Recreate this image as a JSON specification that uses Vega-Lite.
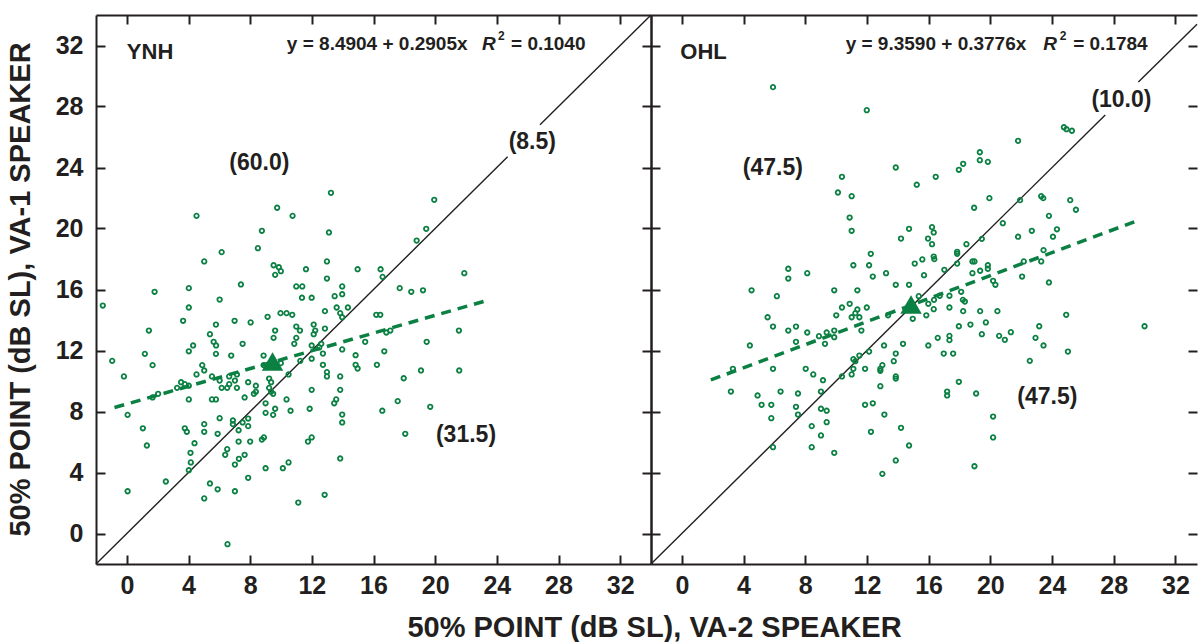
{
"$schema": "https://vega.github.io/schema/vega-lite/v6.json",
"background": "white",
"padding": {"left": 5, "top": 12, "right": 0, "bottom": 0},
"bounds": "flush",
"spacing": 0,
"config": {
  "view": {"stroke": null},
  "axis": {"grid": false, "domainColor": "#231f20", "domainWidth": 2, "tickColor": "#231f20", "tickWidth": 2, "tickSize": -9,
    "labelFont": "Liberation Sans", "labelFontWeight": "bold", "labelFontSize": 25, "labelColor": "#231f20", "labelFlush": false,
    "titleFont": "Liberation Sans", "titleFontWeight": "bold", "titleFontSize": 29, "titleColor": "#231f20"},
  "axisBottom": {"labelPadding": 18},
  "axisLeft": {"labelPadding": 22},
  "text": {"font": "Liberation Sans", "fontWeight": "bold", "color": "#231f20"}
},
"datasets": {
  "pts_ynh": [
    {"x":9.75,"y":21.36},{"x":4.52,"y":20.83},{"x":8.76,"y":19.85},{"x":8.50,"y":18.71},{"x":6.15,"y":18.45},{"x":5.02,"y":17.84},{"x":9.52,"y":17.59},{"x":9.86,"y":17.46},{"x":9.99,"y":17.20},{"x":9.62,"y":16.96},{"x":7.40,"y":16.33},{"x":1.80,"y":15.85},{"x":4.02,"y":16.09},{"x":-1.56,"y":14.95},{"x":6.02,"y":15.34},{"x":4.02,"y":14.82},{"x":9.97,"y":14.45},{"x":10.36,"y":14.45},{"x":9.13,"y":14.21},{"x":3.65,"y":13.95},{"x":6.99,"y":13.95},{"x":8.03,"y":13.84},{"x":5.78,"y":13.70},{"x":1.43,"y":13.31},{"x":9.62,"y":13.31},{"x":5.39,"y":13.07},{"x":9.52,"y":12.83},{"x":5.63,"y":12.57},{"x":5.79,"y":12.33},{"x":4.30,"y":12.33},{"x":7.51,"y":12.44},{"x":4.02,"y":11.95},
    {"x":13.24,"y":22.34},{"x":19.94,"y":21.88},{"x":10.75,"y":20.83},{"x":13.11,"y":19.74},{"x":19.42,"y":19.98},{"x":18.80,"y":19.21},{"x":12.98,"y":17.84},{"x":11.62,"y":17.33},{"x":14.97,"y":17.33},{"x":16.46,"y":17.33},{"x":16.59,"y":16.83},{"x":12.98,"y":16.72},{"x":21.89,"y":17.07},{"x":10.99,"y":16.20},{"x":11.38,"y":16.20},{"x":13.97,"y":16.20},{"x":17.70,"y":16.09},{"x":18.45,"y":15.85},{"x":19.21,"y":15.95},{"x":13.97,"y":15.69},{"x":13.48,"y":15.56},{"x":11.36,"y":15.46},{"x":11.99,"y":15.46},{"x":13.61,"y":14.82},{"x":14.34,"y":14.82},{"x":13.84,"y":14.45},{"x":13.97,"y":14.18},{"x":12.85,"y":14.58},{"x":16.18,"y":14.34},{"x":16.44,"y":14.34},{"x":10.73,"y":14.34},{"x":10.99,"y":13.57},{"x":11.23,"y":13.31},{"x":12.12,"y":13.70},{"x":12.22,"y":13.31},{"x":12.12,"y":13.07},{"x":12.85,"y":13.44},{"x":10.99,"y":12.83},{"x":10.86,"y":12.44},{"x":16.83,"y":13.18},{"x":17.09,"y":13.31},{"x":21.54,"y":13.31},{"x":11.99,"y":12.33},{"x":12.61,"y":12.44},{"x":12.48,"y":12.20},{"x":15.46,"y":12.57},{"x":19.45,"y":12.57},{"x":13.97,"y":12.07},{"x":16.70,"y":11.95},
    {"x":1.17,"y":11.78},{"x":5.78,"y":11.78},{"x":6.77,"y":11.67},{"x":8.87,"y":11.67},{"x":-0.95,"y":11.32},{"x":1.67,"y":11.04},{"x":4.89,"y":11.04},{"x":5.02,"y":10.69},{"x":4.52,"y":10.43},{"x":-0.19,"y":10.30},{"x":5.52,"y":10.30},{"x":6.64,"y":10.30},{"x":7.14,"y":10.43},{"x":8.87,"y":11.04},{"x":9.99,"y":11.17},{"x":6.02,"y":10.03},{"x":7.01,"y":10.03},{"x":7.87,"y":9.92},{"x":3.52,"y":9.92},{"x":3.76,"y":9.79},{"x":4.02,"y":9.69},{"x":3.26,"y":9.55},{"x":6.15,"y":9.55},{"x":6.51,"y":9.55},{"x":7.14,"y":9.55},{"x":6.64,"y":9.79},{"x":8.37,"y":9.69},{"x":9.23,"y":10.16},{"x":9.36,"y":9.92},{"x":9.23,"y":9.55},{"x":8.37,"y":9.29},{"x":8.24,"y":9.16},{"x":9.36,"y":9.29},{"x":9.49,"y":9.16},{"x":10.49,"y":10.43},{"x":2.03,"y":9.16},{"x":1.67,"y":8.92},{"x":7.64,"y":8.92},{"x":4.02,"y":8.79},{"x":5.52,"y":8.79},{"x":5.78,"y":8.79},{"x":10.36,"y":8.79},{"x":9.00,"y":8.54},{"x":9.62,"y":8.18},{"x":9.00,"y":7.91},{"x":9.49,"y":7.78},{"x":10.62,"y":8.05},{"x":0.05,"y":7.78},{"x":6.02,"y":7.56},{"x":6.88,"y":7.41},{"x":6.88,"y":7.17},{"x":7.51,"y":7.28},{"x":7.87,"y":7.54},{"x":7.87,"y":7.04},{"x":5.02,"y":7.17},{"x":3.76,"y":6.90},{"x":3.89,"y":6.67},{"x":5.02,"y":6.67},{"x":1.04,"y":6.90},{"x":5.89,"y":6.54},{"x":7.25,"y":6.77},{"x":4.39,"y":5.92},{"x":7.25,"y":6.03},{"x":8.00,"y":6.03},{"x":8.76,"y":6.16},{"x":8.89,"y":6.30},{"x":1.30,"y":5.77},{"x":6.51,"y":5.53},{"x":6.38,"y":5.16},{"x":4.13,"y":5.29},{"x":7.27,"y":4.90},{"x":7.64,"y":5.16},{"x":4.15,"y":4.66},{"x":7.01,"y":4.52},{"x":4.02,"y":4.15},{"x":9.00,"y":4.28},{"x":10.49,"y":4.66},{"x":10.12,"y":4.28},{"x":7.87,"y":3.65},{"x":2.53,"y":3.41},{"x":5.39,"y":3.28},{"x":0.05,"y":2.77},{"x":5.89,"y":2.90},{"x":7.01,"y":2.77},{"x":5.02,"y":2.30},{"x":6.53,"y":-0.70},
    {"x":12.72,"y":11.80},{"x":14.84,"y":11.69},{"x":11.99,"y":11.46},{"x":11.25,"y":11.32},{"x":12.72,"y":11.06},{"x":14.84,"y":11.06},{"x":14.97,"y":10.82},{"x":16.22,"y":11.06},{"x":12.98,"y":10.58},{"x":12.98,"y":10.30},{"x":13.84,"y":10.30},{"x":17.96,"y":10.18},{"x":19.08,"y":10.69},{"x":21.56,"y":10.69},{"x":11.99,"y":9.42},{"x":13.84,"y":9.42},{"x":13.58,"y":8.79},{"x":13.45,"y":8.54},{"x":17.57,"y":8.68},{"x":19.68,"y":8.31},{"x":16.57,"y":8.05},{"x":11.86,"y":8.18},{"x":13.97,"y":7.80},{"x":13.97,"y":7.28},{"x":18.06,"y":6.54},{"x":11.99,"y":6.30},{"x":11.75,"y":6.03},{"x":13.84,"y":4.92},{"x":12.83,"y":2.54},{"x":11.12,"y":2.03}
  ],
  "pts_ohl": [
    {"x":5.91,"y":29.27},{"x":11.99,"y":27.76},{"x":13.87,"y":24.0},{"x":10.38,"y":23.39},{"x":15.23,"y":22.87},{"x":10.12,"y":22.36},{"x":11.01,"y":22.12},{"x":10.88,"y":20.72},{"x":11.01,"y":19.85},{"x":14.73,"y":19.98},{"x":14.21,"y":19.34},{"x":15.96,"y":19.34},{"x":12.25,"y":18.34},{"x":15.59,"y":17.97},{"x":15.10,"y":17.70},{"x":11.12,"y":17.59},{"x":12.14,"y":17.59},{"x":6.90,"y":17.36},
    {"x":24.77,"y":26.64},{"x":24.94,"y":26.51},{"x":25.29,"y":26.41},{"x":21.80,"y":25.75},{"x":19.32,"y":25.0},{"x":19.32,"y":24.48},{"x":19.84,"y":24.37},{"x":18.24,"y":24.24},{"x":17.96,"y":23.85},{"x":16.46,"y":23.39},{"x":19.94,"y":21.99},{"x":18.95,"y":21.36},{"x":21.93,"y":21.86},{"x":23.30,"y":22.12},{"x":23.43,"y":21.99},{"x":25.18,"y":21.86},{"x":25.55,"y":21.23},{"x":23.80,"y":20.83},{"x":20.81,"y":20.35},{"x":16.22,"y":20.09},{"x":16.33,"y":19.74},{"x":22.69,"y":19.85},{"x":24.32,"y":19.95},{"x":24.06,"y":19.46},{"x":21.80,"y":19.46},{"x":19.45,"y":19.32},{"x":16.22,"y":18.97},{"x":18.45,"y":18.97},{"x":17.85,"y":18.47},{"x":17.85,"y":18.34},{"x":23.45,"y":18.58},{"x":16.33,"y":18.16},{"x":16.37,"y":17.99},{"x":23.30,"y":17.84},{"x":22.17,"y":17.84},{"x":18.84,"y":17.84},{"x":18.97,"y":17.84},{"x":17.02,"y":17.29},{"x":17.85,"y":17.70},{"x":19.84,"y":17.59},{"x":19.84,"y":17.36},{"x":19.34,"y":17.23},
    {"x":6.90,"y":16.72},{"x":8.13,"y":17.07},{"x":12.38,"y":16.85},{"x":13.24,"y":17.07},{"x":15.70,"y":16.94},{"x":13.87,"y":16.31},{"x":14.73,"y":16.31},{"x":4.52,"y":15.95},{"x":6.16,"y":15.56},{"x":9.88,"y":15.95},{"x":11.38,"y":15.95},{"x":15.36,"y":15.56},{"x":15.98,"y":15.06},{"x":10.88,"y":15.06},{"x":10.38,"y":14.82},{"x":11.38,"y":14.69},{"x":11.99,"y":14.82},{"x":11.25,"y":14.45},{"x":11.01,"y":14.18},{"x":11.51,"y":14.18},{"x":10.01,"y":14.31},{"x":5.56,"y":14.18},{"x":5.91,"y":13.57},{"x":6.90,"y":13.31},{"x":7.40,"y":13.57},{"x":8.13,"y":13.18},{"x":8.89,"y":12.94},{"x":9.39,"y":13.18},{"x":9.88,"y":13.31},{"x":9.88,"y":12.87},{"x":11.64,"y":13.31},{"x":7.40,"y":12.57},{"x":9.28,"y":12.44},{"x":4.41,"y":12.33},{"x":14.97,"y":14.08},{"x":15.85,"y":14.31},{"x":13.37,"y":14.31},{"x":14.34,"y":12.44},{"x":13.11,"y":12.33},{"x":15.98,"y":12.33},{"x":12.14,"y":11.93},{"x":11.51,"y":11.67},{"x":11.12,"y":11.43},{"x":11.25,"y":11.30},{"x":13.87,"y":11.80},{"x":13.74,"y":11.30},{"x":13.0,"y":11.04},{"x":12.87,"y":10.80},{"x":12.87,"y":10.67},{"x":11.12,"y":10.80},{"x":11.88,"y":10.80},{"x":11.01,"y":10.43},{"x":10.38,"y":10.30},{"x":13.87,"y":10.30},{"x":13.87,"y":10.16},{"x":3.31,"y":10.80},{"x":5.91,"y":10.80},{"x":8.03,"y":10.80},{"x":8.52,"y":10.43},{"x":9.15,"y":10.05},{"x":12.87,"y":9.66},{"x":3.18,"y":9.31},{"x":4.91,"y":9.05},{"x":6.40,"y":9.31},{"x":7.53,"y":9.18},{"x":9.02,"y":9.31},{"x":5.17,"y":8.44},{"x":5.80,"y":8.44},{"x":7.40,"y":8.31},{"x":9.02,"y":8.18},{"x":9.39,"y":8.05},{"x":7.53,"y":7.80},{"x":11.88,"y":8.44},{"x":12.38,"y":8.54},{"x":13.13,"y":7.80},{"x":5.80,"y":7.56},{"x":9.39,"y":7.30},{"x":8.42,"y":7.04},{"x":9.02,"y":6.43},{"x":12.26,"y":6.67},{"x":14.21,"y":6.93},{"x":14.73,"y":5.77},{"x":5.91,"y":5.66},{"x":8.42,"y":5.66},{"x":9.88,"y":5.29},{"x":13.87,"y":4.79},{"x":13.0,"y":3.91},
    {"x":18.84,"y":17.07},{"x":22.06,"y":16.85},{"x":23.80,"y":16.46},{"x":20.33,"y":16.31},{"x":20.18,"y":16.57},{"x":16.35,"y":15.32},{"x":16.72,"y":15.59},{"x":17.35,"y":15.59},{"x":18.11,"y":15.85},{"x":18.22,"y":15.32},{"x":18.35,"y":15.21},{"x":16.33,"y":14.71},{"x":17.35,"y":14.82},{"x":18.24,"y":14.58},{"x":19.34,"y":14.58},{"x":20.46,"y":14.58},{"x":24.92,"y":14.34},{"x":30.0,"y":13.59},{"x":17.96,"y":13.59},{"x":18.71,"y":13.70},{"x":19.71,"y":13.84},{"x":23.17,"y":13.59},{"x":16.59,"y":12.83},{"x":17.35,"y":12.96},{"x":17.35,"y":12.68},{"x":19.45,"y":13.07},{"x":20.57,"y":12.96},{"x":20.94,"y":12.70},{"x":21.33,"y":13.20},{"x":22.93,"y":12.83},{"x":23.45,"y":12.33},{"x":25.03,"y":11.93},{"x":22.56,"y":11.32},{"x":16.98,"y":11.80},{"x":17.59,"y":11.80},{"x":17.96,"y":9.95},{"x":17.20,"y":9.31},{"x":17.20,"y":9.05},{"x":19.08,"y":9.18},{"x":20.18,"y":7.67},{"x":20.18,"y":6.30},{"x":18.97,"y":4.41}
  ],
  "id_ynh": [{"s":1,"x":-2,"y":-2},{"s":1,"x":24.7,"y":24.7},{"s":2,"x":26.8,"y":26.8},{"s":2,"x":34,"y":34}],
  "id_ohl": [{"s":1,"x":-2,"y":-2},{"s":1,"x":27.45,"y":27.45},{"s":2,"x":29.6,"y":29.6},{"s":2,"x":33.4,"y":33.4}],
  "reg_ynh": [{"x":-0.8,"y":8.26},{"x":23.15,"y":15.22}],
  "reg_ohl": [{"x":1.88,"y":10.07},{"x":29.68,"y":20.57}],
  "mean_ynh": [{"x":9.45,"y":11.28}],
  "mean_ohl": [{"x":14.86,"y":15.02}],
  "lab_ynh": [{"t":"(60.0)","x":8.6,"y":24.3},{"t":"(8.5)","x":26.3,"y":25.65},{"t":"(31.5)","x":22.0,"y":6.45}],
  "lab_ohl": [{"t":"(47.5)","x":5.9,"y":24.0},{"t":"(10.0)","x":28.5,"y":28.4},{"t":"(47.5)","x":23.7,"y":8.95}],
  "name_ynh": [{"t":"YNH","x":0.0,"y":31.6}],
  "name_ohl": [{"t":"OHL","x":-0.1,"y":31.6}],
  "eq_ynh": [{"t":"y = 8.4904 + 0.2905x","x":10.38,"y":32.13},{"t":"= 0.1040","x":24.92,"y":32.13}],
  "eq_ohl": [{"t":"y = 9.3590 + 0.3776x","x":10.62,"y":32.13},{"t":"= 0.1784","x":25.37,"y":32.13}],
  "eqr_ynh": [{"t":"R","x":23.04,"y":32.13}],
  "eqr_ohl": [{"t":"R","x":23.43,"y":32.13}],
  "eqs_ynh": [{"t":"2","x":24.07,"y":32.6}],
  "eqs_ohl": [{"t":"2","x":24.5,"y":32.6}]
},
"hconcat": [
  {
    "width": 555, "height": 549,
    "resolve": {"axis": {"x": "independent", "y": "independent"}},
    "layer": [
      {"data": {"name": "id_ynh"}, "mark": {"type": "line", "color": "#231f20", "strokeWidth": 1.4},
       "encoding": {
         "x": {"field": "x", "type": "quantitative", "scale": {"domain": [-2, 34], "nice": false, "zero": false},
               "axis": {"orient": "bottom", "values": [0,4,8,12,16,20,24,28,32], "title": "50% POINT (dB SL), VA-2 SPEAKER", "titleX": 558, "titleY": 72, "titleAlign": "center", "titleBaseline": "alphabetic"}},
         "y": {"field": "y", "type": "quantitative", "scale": {"domain": [-2, 34], "nice": false, "zero": false},
               "axis": {"orient": "left", "values": [0,4,8,12,16,20,24,28,32], "title": "50% POINT (dB SL), VA-1 SPEAKER", "titleX": -67, "titleY": 274, "titleAngle": 270, "titleAlign": "center", "titleBaseline": "alphabetic"}},
         "detail": {"field": "s", "type": "nominal"}}},
      {"data": {"name": "pts_ynh"}, "mark": {"type": "point", "shape": "circle", "filled": false, "size": 20, "strokeWidth": 1.8, "color": "#0b8043", "opacity": 1},
       "encoding": {
         "x": {"field": "x", "type": "quantitative", "scale": {"domain": [-2, 34], "nice": false, "zero": false},
               "axis": {"orient": "top", "values": [0,4,8,12,16,20,24,28,32], "labels": false, "title": null}},
         "y": {"field": "y", "type": "quantitative", "scale": {"domain": [-2, 34], "nice": false, "zero": false},
               "axis": {"orient": "right", "values": [0,4,8,12,16,20,24,28,32], "labels": false, "title": null}}}},
      {"data": {"name": "reg_ynh"}, "mark": {"type": "line", "color": "#0b8043", "strokeWidth": 3.5, "strokeDash": [10, 7]},
       "encoding": {
         "x": {"field": "x", "type": "quantitative", "scale": {"domain": [-2, 34], "nice": false, "zero": false}, "axis": null},
         "y": {"field": "y", "type": "quantitative", "scale": {"domain": [-2, 34], "nice": false, "zero": false}, "axis": null}}},
      {"data": {"name": "mean_ynh"}, "mark": {"type": "point", "shape": "triangle-up", "filled": true, "size": 460, "color": "#0b8043", "opacity": 1},
       "encoding": {
         "x": {"field": "x", "type": "quantitative", "scale": {"domain": [-2, 34], "nice": false, "zero": false}, "axis": null},
         "y": {"field": "y", "type": "quantitative", "scale": {"domain": [-2, 34], "nice": false, "zero": false}, "axis": null}}},
      {"data": {"name": "lab_ynh"}, "mark": {"type": "text", "fontSize": 23, "align": "center", "baseline": "middle"},
       "encoding": {
         "x": {"field": "x", "type": "quantitative", "scale": {"domain": [-2, 34], "nice": false, "zero": false}, "axis": null},
         "y": {"field": "y", "type": "quantitative", "scale": {"domain": [-2, 34], "nice": false, "zero": false}, "axis": null},
         "text": {"field": "t"}}},
      {"data": {"name": "name_ynh"}, "mark": {"type": "text", "fontSize": 22, "align": "left", "baseline": "middle"},
       "encoding": {
         "x": {"field": "x", "type": "quantitative", "scale": {"domain": [-2, 34], "nice": false, "zero": false}, "axis": null},
         "y": {"field": "y", "type": "quantitative", "scale": {"domain": [-2, 34], "nice": false, "zero": false}, "axis": null},
         "text": {"field": "t"}}},
      {"data": {"name": "eq_ynh"}, "mark": {"type": "text", "fontSize": 19, "align": "left", "baseline": "middle"},
       "encoding": {
         "x": {"field": "x", "type": "quantitative", "scale": {"domain": [-2, 34], "nice": false, "zero": false}, "axis": null},
         "y": {"field": "y", "type": "quantitative", "scale": {"domain": [-2, 34], "nice": false, "zero": false}, "axis": null},
         "text": {"field": "t"}}},
      {"data": {"name": "eqr_ynh"}, "mark": {"type": "text", "fontSize": 19, "fontStyle": "italic", "align": "left", "baseline": "middle"},
       "encoding": {
         "x": {"field": "x", "type": "quantitative", "scale": {"domain": [-2, 34], "nice": false, "zero": false}, "axis": null},
         "y": {"field": "y", "type": "quantitative", "scale": {"domain": [-2, 34], "nice": false, "zero": false}, "axis": null},
         "text": {"field": "t"}}},
      {"data": {"name": "eqs_ynh"}, "mark": {"type": "text", "fontSize": 12, "align": "left", "baseline": "middle"},
       "encoding": {
         "x": {"field": "x", "type": "quantitative", "scale": {"domain": [-2, 34], "nice": false, "zero": false}, "axis": null},
         "y": {"field": "y", "type": "quantitative", "scale": {"domain": [-2, 34], "nice": false, "zero": false}, "axis": null},
         "text": {"field": "t"}}}
    ]
  },
  {
    "width": 546, "height": 549,
    "resolve": {"axis": {"x": "independent", "y": "independent"}},
    "layer": [
      {"data": {"name": "id_ohl"}, "mark": {"type": "line", "color": "#231f20", "strokeWidth": 1.4},
       "encoding": {
         "x": {"field": "x", "type": "quantitative", "scale": {"domain": [-2, 33.4], "nice": false, "zero": false},
               "axis": {"orient": "bottom", "values": [0,4,8,12,16,20,24,28,32], "title": null}},
         "y": {"field": "y", "type": "quantitative", "scale": {"domain": [-2, 34], "nice": false, "zero": false},
               "axis": {"orient": "left", "values": [0,4,8,12,16,20,24,28,32], "labels": false, "title": null}},
         "detail": {"field": "s", "type": "nominal"}}},
      {"data": {"name": "pts_ohl"}, "mark": {"type": "point", "shape": "circle", "filled": false, "size": 20, "strokeWidth": 1.8, "color": "#0b8043", "opacity": 1},
       "encoding": {
         "x": {"field": "x", "type": "quantitative", "scale": {"domain": [-2, 33.4], "nice": false, "zero": false},
               "axis": {"orient": "top", "values": [0,4,8,12,16,20,24,28,32], "labels": false, "title": null}},
         "y": {"field": "y", "type": "quantitative", "scale": {"domain": [-2, 34], "nice": false, "zero": false},
               "axis": {"orient": "right", "values": [0,4,8,12,16,20,24,28,32], "labels": false, "title": null, "domain": false}}}},
      {"data": {"name": "reg_ohl"}, "mark": {"type": "line", "color": "#0b8043", "strokeWidth": 3.5, "strokeDash": [10, 7]},
       "encoding": {
         "x": {"field": "x", "type": "quantitative", "scale": {"domain": [-2, 33.4], "nice": false, "zero": false}, "axis": null},
         "y": {"field": "y", "type": "quantitative", "scale": {"domain": [-2, 34], "nice": false, "zero": false}, "axis": null}}},
      {"data": {"name": "mean_ohl"}, "mark": {"type": "point", "shape": "triangle-up", "filled": true, "size": 460, "color": "#0b8043", "opacity": 1},
       "encoding": {
         "x": {"field": "x", "type": "quantitative", "scale": {"domain": [-2, 33.4], "nice": false, "zero": false}, "axis": null},
         "y": {"field": "y", "type": "quantitative", "scale": {"domain": [-2, 34], "nice": false, "zero": false}, "axis": null}}},
      {"data": {"name": "lab_ohl"}, "mark": {"type": "text", "fontSize": 23, "align": "center", "baseline": "middle"},
       "encoding": {
         "x": {"field": "x", "type": "quantitative", "scale": {"domain": [-2, 33.4], "nice": false, "zero": false}, "axis": null},
         "y": {"field": "y", "type": "quantitative", "scale": {"domain": [-2, 34], "nice": false, "zero": false}, "axis": null},
         "text": {"field": "t"}}},
      {"data": {"name": "name_ohl"}, "mark": {"type": "text", "fontSize": 22, "align": "left", "baseline": "middle"},
       "encoding": {
         "x": {"field": "x", "type": "quantitative", "scale": {"domain": [-2, 33.4], "nice": false, "zero": false}, "axis": null},
         "y": {"field": "y", "type": "quantitative", "scale": {"domain": [-2, 34], "nice": false, "zero": false}, "axis": null},
         "text": {"field": "t"}}},
      {"data": {"name": "eq_ohl"}, "mark": {"type": "text", "fontSize": 19, "align": "left", "baseline": "middle"},
       "encoding": {
         "x": {"field": "x", "type": "quantitative", "scale": {"domain": [-2, 33.4], "nice": false, "zero": false}, "axis": null},
         "y": {"field": "y", "type": "quantitative", "scale": {"domain": [-2, 34], "nice": false, "zero": false}, "axis": null},
         "text": {"field": "t"}}},
      {"data": {"name": "eqr_ohl"}, "mark": {"type": "text", "fontSize": 19, "fontStyle": "italic", "align": "left", "baseline": "middle"},
       "encoding": {
         "x": {"field": "x", "type": "quantitative", "scale": {"domain": [-2, 33.4], "nice": false, "zero": false}, "axis": null},
         "y": {"field": "y", "type": "quantitative", "scale": {"domain": [-2, 34], "nice": false, "zero": false}, "axis": null},
         "text": {"field": "t"}}},
      {"data": {"name": "eqs_ohl"}, "mark": {"type": "text", "fontSize": 12, "align": "left", "baseline": "middle"},
       "encoding": {
         "x": {"field": "x", "type": "quantitative", "scale": {"domain": [-2, 33.4], "nice": false, "zero": false}, "axis": null},
         "y": {"field": "y", "type": "quantitative", "scale": {"domain": [-2, 34], "nice": false, "zero": false}, "axis": null},
         "text": {"field": "t"}}}
    ]
  }
]
}
